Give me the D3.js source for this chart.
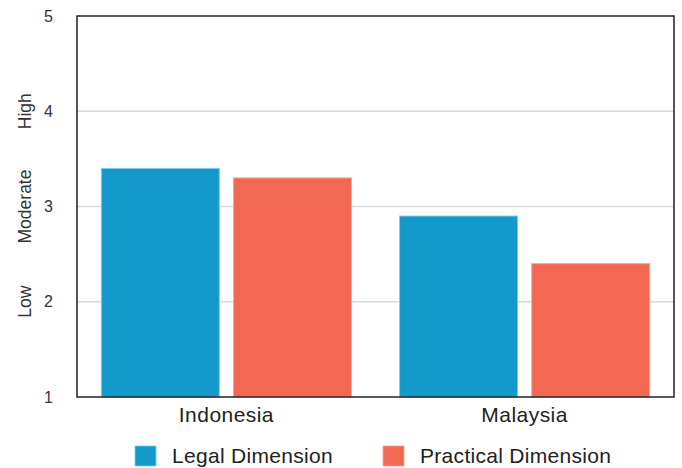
<!DOCTYPE html>
<html><head><meta charset="utf-8">
<script src="https://cdn.jsdelivr.net/npm/d3@7"></script>
<style>body{margin:0;background:#fff}svg{display:block;font-family:"Liberation Sans",Arial,Helvetica,sans-serif}</style>
</head><body>
<script>
const categories = ["Indonesia", "Malaysia"];
const seriesNames = ["Legal Dimension", "Practical Dimension"];
const legalValues = [3.4, 2.9];
const practicalValues = [3.3, 2.4];
const yTicks = [1, 2, 3, 4, 5];
const levelLabels = [{v: 2, t: "Low"}, {v: 3, t: "Moderate"}, {v: 4, t: "High"}];
const colors = ["#139acb", "#f26852"];
const strokeColors = ["#7fcbe6", "#f9a598"];

const W = 682, H = 468;
const m = {l: 77, r: 8, t: 16, b: 71};
const svg = d3.select("body").append("svg").attr("width", W).attr("height", H);

const x0 = d3.scaleBand().domain(categories).range([m.l, W - m.r]).paddingInner(0.158).paddingOuter(0.08);
const x1 = d3.scaleBand().domain(seriesNames).range([0, x0.bandwidth()]).paddingInner(0.1);
const y = d3.scaleLinear().domain([1, 5]).range([H - m.b, m.t]);

// grid
svg.append("g").selectAll("line").data(yTicks.filter(d => d > 1 && d < 5)).join("line")
  .attr("x1", m.l).attr("x2", W - m.r).attr("y1", d => y(d)).attr("y2", d => y(d))
  .attr("stroke", "#d9d9d9").attr("stroke-width", 1.5);

const data = categories.map((c, i) => ({c, vals: [legalValues[i], practicalValues[i]]}));
const g = svg.append("g").selectAll("g").data(data).join("g")
  .attr("transform", d => `translate(${x0(d.c)},0)`);
g.selectAll("rect").data(d => d.vals.map((v, k) => ({v, k}))).join("rect")
  .attr("x", d => x1(seriesNames[d.k]) + 0.5)
  .attr("width", x1.bandwidth() - 1)
  .attr("y", d => y(d.v))
  .attr("height", d => y(1) - y(d.v))
  .attr("fill", d => colors[d.k])
  .attr("stroke", d => strokeColors[d.k]).attr("stroke-width", 1);

// frame
svg.append("rect").attr("x", m.l).attr("y", m.t).attr("width", W - m.r - m.l).attr("height", H - m.b - m.t)
  .attr("fill", "none").attr("stroke", "#222").attr("stroke-width", 1.5);

// y axis
const ya = svg.append("g").attr("transform", `translate(${m.l},0)`)
  .call(d3.axisLeft(y).tickValues(yTicks).tickFormat(d3.format("d")).tickSize(0).tickPadding(24));
ya.select(".domain").remove();
ya.selectAll("text").attr("font-size", 16).attr("fill", "#333").attr("font-family", "Liberation Sans, Arial, sans-serif");

svg.append("g").selectAll("text").data(levelLabels).join("text")
  .attr("transform", d => `translate(31,${y(d.v)}) rotate(-90)`)
  .attr("text-anchor", "middle").attr("font-size", 17.5).attr("fill", "#333")
  .text(d => d.t);

// x axis
const xa = svg.append("g").attr("transform", `translate(0,${H - m.b})`)
  .call(d3.axisBottom(x0).tickSize(0).tickPadding(10));
xa.select(".domain").remove();
xa.selectAll("text").attr("font-size", 21).attr("letter-spacing", 0.45).attr("fill", "#222").attr("font-family", "Liberation Sans, Arial, sans-serif");

// legend
const legX = [135, 383];
const lg = svg.append("g").selectAll("g").data(seriesNames).join("g")
  .attr("transform", (d, i) => `translate(${legX[i]},446)`);
lg.append("rect").attr("width", 21).attr("height", 20).attr("fill", (d, i) => colors[i])
  .attr("stroke", (d, i) => strokeColors[i]).attr("stroke-width", 0.8);
lg.append("text").attr("x", 37).attr("y", 17).attr("font-size", 21).attr("letter-spacing", 0.3).attr("fill", "#222").text(d => d);
</script>
</body></html>
